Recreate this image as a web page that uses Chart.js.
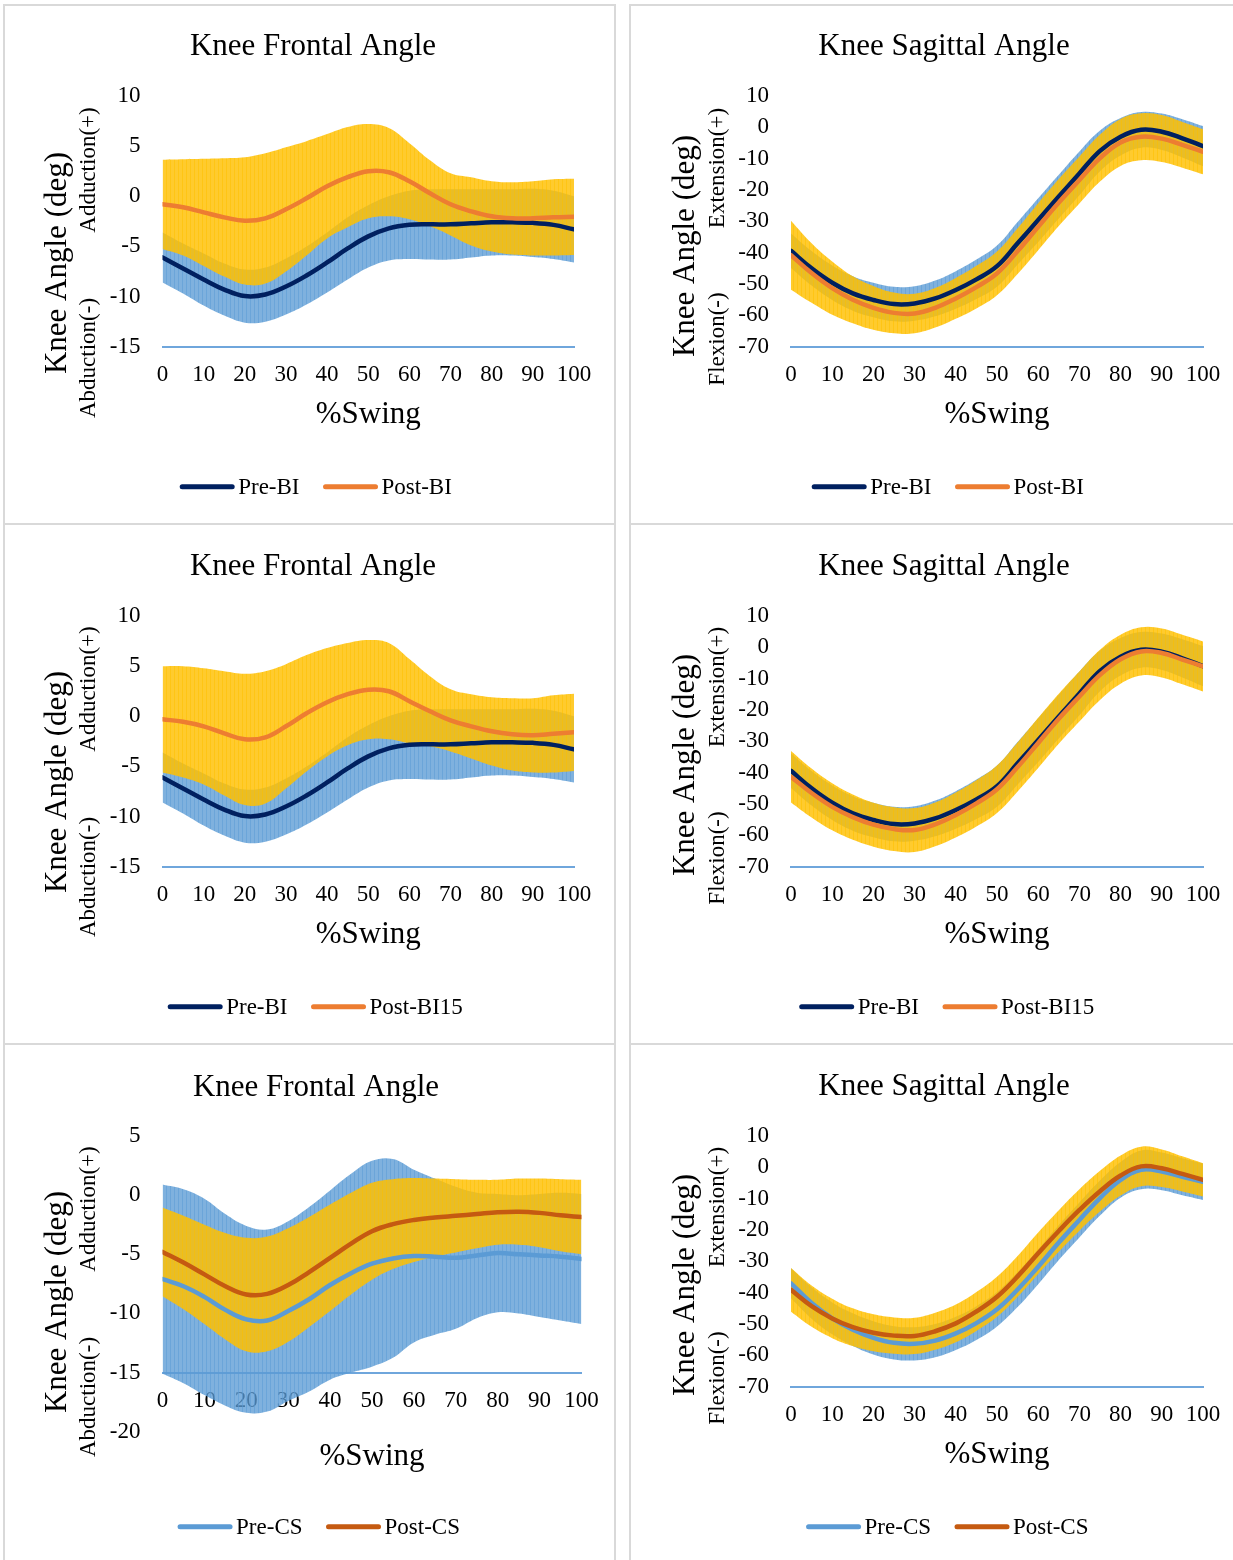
<!DOCTYPE html>
<html>
<head>
<meta charset="utf-8">
<title>Knee angles during swing</title>
<script src="https://cdn.jsdelivr.net/npm/chart.js@4.4.1/dist/chart.umd.min.js"></script>
<style>
  html, body { margin: 0; padding: 0; background: #fff; }
  body { position: relative; width: 1233px; height: 1560px; overflow: hidden; }
  .frame { position: absolute; box-sizing: border-box; border: 2px solid #d9d9d9; border-bottom: none; }
  canvas { position: absolute; }
</style>
</head>
<body>
<div class="frame" style="left:3px;top:4px;width:613px;height:521px"></div>
<div class="frame" style="left:629px;top:4px;width:700px;height:521px"></div>
<div class="frame" style="left:3px;top:523px;width:613px;height:522px"></div>
<div class="frame" style="left:629px;top:523px;width:700px;height:522px"></div>
<div class="frame" style="left:3px;top:1043px;width:613px;height:600px"></div>
<div class="frame" style="left:629px;top:1043px;width:700px;height:600px"></div>

<canvas id="frontalBi"    width="613" height="519" style="left:3px;top:5px"></canvas>
<canvas id="sagittalBi"   width="603" height="519" style="left:630px;top:5px"></canvas>
<canvas id="frontalBi15"  width="613" height="520" style="left:3px;top:524px"></canvas>
<canvas id="sagittalBi15" width="603" height="520" style="left:630px;top:524px"></canvas>
<canvas id="frontalCs"    width="613" height="516" style="left:3px;top:1044px"></canvas>
<canvas id="sagittalCs"   width="603" height="516" style="left:630px;top:1044px"></canvas>

<script>
// ---- data: group means and standard deviations every 5 % of swing ----
const SWING_PCT = [0, 5, 10, 15, 20, 25, 30, 35, 40, 45, 50, 55, 60, 65, 70, 75, 80, 85, 90, 95, 100];

// frontal plane (deg), adduction positive
const preBiFrontalMean   = [-6.1, -7.2, -8.3, -9.3, -9.95, -9.8, -9.0, -7.9, -6.6, -5.2, -4.0, -3.2, -2.85, -2.8, -2.8, -2.7, -2.6, -2.6, -2.65, -2.85, -3.3];
const preBiFrontalSd     = [2.5, 2.5, 2.6, 2.6, 2.65, 2.7, 2.8, 2.9, 3.0, 3.1, 3.1, 3.2, 3.4, 3.5, 3.5, 3.4, 3.3, 3.3, 3.4, 3.4, 3.3];
const postBiFrontalMean  = [-0.8, -1.1, -1.6, -2.1, -2.45, -2.2, -1.3, -0.2, 1.0, 1.9, 2.5, 2.4, 1.5, 0.3, -0.8, -1.5, -2.0, -2.2, -2.2, -2.1, -2.05];
const postBiFrontalSd    = [4.45, 4.8, 5.35, 5.9, 6.35, 6.5, 6.2, 5.7, 5.2, 5.0, 4.7, 4.4, 3.8, 3.3, 3.1, 3.4, 3.5, 3.6, 3.7, 3.8, 3.8];
const postBi15FrontalMean = [-0.3, -0.55, -1.0, -1.7, -2.3, -2.1, -1.0, 0.3, 1.4, 2.2, 2.65, 2.5, 1.5, 0.5, -0.4, -1.0, -1.5, -1.8, -1.9, -1.75, -1.6];
const postBi15FrontalSd  = [5.3, 5.55, 5.8, 6.2, 6.55, 6.6, 6.2, 5.8, 5.4, 5.1, 4.95, 4.8, 4.2, 3.5, 3.1, 3.2, 3.4, 3.6, 3.7, 3.85, 3.85];
const preCsFrontalMean   = [-7.1, -7.7, -8.6, -9.7, -10.5, -10.6, -9.8, -8.8, -7.6, -6.6, -5.8, -5.35, -5.15, -5.2, -5.3, -5.1, -4.9, -5.0, -5.1, -5.2, -5.4];
const preCsFrontalSd     = [8.0, 8.2, 8.3, 8.1, 7.9, 7.7, 7.6, 7.8, 8.0, 8.4, 8.7, 8.4, 7.3, 6.6, 6.0, 5.3, 5.0, 5.0, 5.2, 5.4, 5.5];
const postCsFrontalMean  = [-4.8, -5.7, -6.7, -7.7, -8.4, -8.35, -7.6, -6.5, -5.3, -4.1, -3.05, -2.45, -2.1, -1.9, -1.75, -1.6, -1.45, -1.4, -1.5, -1.7, -1.85];
const postCsFrontalSd    = [3.75, 3.95, 4.2, 4.5, 4.8, 4.85, 4.8, 4.65, 4.5, 4.3, 4.1, 3.8, 3.55, 3.3, 3.1, 2.9, 2.75, 2.8, 2.9, 3.05, 3.15];

// sagittal plane (deg), extension positive
const preBiSagittalMean   = [-39.4, -45.0, -49.6, -53.0, -55.1, -56.4, -56.2, -54.6, -51.9, -48.5, -44.3, -37.0, -29.6, -22.1, -14.7, -7.5, -3.0, -0.8, -1.4, -3.5, -6.0];
const preBiSagittalSd     = [5.5, 5.5, 5.5, 5.5, 5.5, 5.5, 5.5, 5.7, 6.0, 6.3, 6.6, 6.8, 7.0, 7.0, 7.0, 6.5, 6.0, 5.7, 5.8, 6.1, 6.4];
const postBiSagittalMean  = [-40.8, -46.5, -51.3, -55.0, -57.6, -59.2, -59.4, -57.6, -54.6, -51.0, -46.6, -39.5, -31.7, -24.0, -16.8, -9.8, -4.8, -3.0, -3.6, -5.6, -7.8];
const postBiSagittalSd    = [11.0, 9.5, 8.5, 7.5, 7.0, 6.5, 6.3, 6.3, 6.5, 6.8, 7.0, 7.3, 7.5, 7.5, 7.5, 7.5, 7.5, 7.5, 7.5, 7.3, 7.2];
const postBi15SagittalMean = [-41.3, -46.5, -50.9, -54.2, -56.6, -58.0, -58.3, -56.5, -53.5, -49.8, -45.3, -38.2, -30.5, -22.8, -15.7, -8.8, -3.8, -1.3, -1.8, -3.9, -6.1];
const postBi15SagittalSd  = [8.2, 7.8, 7.5, 7.2, 7.0, 7.0, 7.0, 7.0, 7.2, 7.4, 7.6, 7.8, 8.0, 8.0, 8.0, 8.0, 7.8, 7.7, 7.8, 7.9, 8.0];
const preCsSagittalMean   = [-37.0, -43.3, -48.2, -51.8, -54.4, -56.0, -56.3, -55.3, -53.0, -49.7, -45.3, -39.0, -31.7, -24.0, -16.8, -9.8, -4.0, -0.8, -1.3, -3.0, -4.6];
const preCsSagittalSd     = [4.8, 5.0, 5.1, 5.2, 5.3, 5.3, 5.3, 5.3, 5.3, 5.4, 5.5, 5.6, 5.6, 5.6, 5.6, 5.6, 5.7, 6.2, 6.0, 5.9, 5.8];
const postCsSagittalMean  = [-39.1, -44.3, -48.2, -51.0, -52.8, -53.7, -53.8, -52.3, -49.8, -46.0, -41.3, -34.8, -27.4, -20.3, -13.6, -7.6, -2.6, 0.3, -0.3, -2.1, -4.0];
const postCsSagittalSd    = [7.0, 6.6, 6.3, 6.0, 5.9, 5.8, 5.8, 5.9, 6.0, 6.2, 6.4, 6.5, 6.6, 6.6, 6.6, 6.5, 6.4, 6.3, 6.0, 5.6, 5.3];

// labels
const GROUP_NAMES = { preBi: 'Pre-BI', postBi: 'Post-BI', postBi15: 'Post-BI15', preCs: 'Pre-CS', postCs: 'Post-CS' };
const FRONTAL_TITLE = 'Knee Frontal Angle';
const SAGITTAL_TITLE = 'Knee Sagittal Angle';
const Y_TITLE = 'Knee Angle (deg)';
const X_TITLE = '%Swing';
const FRONTAL_DIRS = ['Adduction(+)', 'Abduction(-)'];
const SAGITTAL_DIRS = ['Extension(+)', 'Flexion(-)'];

// ---- styling ----
const SERIF = "'Liberation Serif', 'Times New Roman', serif";
Chart.defaults.font.family = SERIF;
Chart.defaults.color = '#000';

const NAVY = '#002060', ORANGE = '#ED7D31', LIGHT_BLUE = '#5B9BD5', DARK_ORANGE = '#C55A11';
const AXIS_BLUE = '#6fa6dc';

// error-bar style band: fine vertical stripes in a translucent fill
function stripes(r, g, b, aBase, aLine) {
  const c = document.createElement('canvas');
  c.width = 4; c.height = 8;
  const x = c.getContext('2d');
  x.fillStyle = `rgba(${r},${g},${b},${aBase})`; x.fillRect(0, 0, 3, 8);
  x.fillStyle = `rgba(${r},${g},${b},${aLine})`; x.fillRect(3, 0, 1, 8);
  return x.createPattern(c, 'repeat');
}
const BLUE_BAND = stripes(91, 155, 213, 0.78, 0.9);
const GOLD_BAND = stripes(255, 192, 0, 0.82, 0.92);

function series(mean, sd, sign) {
  return SWING_PCT.map((p, i) => ({ x: p, y: sd ? mean[i] + sign * sd[i] : mean[i] }));
}

function textPlugin(s) {
  return {
    id: 'panelText',
    afterDraw(chart) {
      const ctx = chart.ctx;
      ctx.save();
      ctx.fillStyle = '#000';
      // chart title
      ctx.font = `31px ${SERIF}`;
      ctx.textAlign = 'center';
      ctx.textBaseline = 'alphabetic';
      ctx.fillText(s.title, s.titleX, s.titleY);
      // rotated axis captions
      const vtext = (txt, x, y, size) => {
        ctx.save();
        ctx.translate(x, y);
        ctx.rotate(-Math.PI / 2);
        ctx.font = `${size}px ${SERIF}`;
        ctx.textAlign = 'center';
        ctx.textBaseline = 'middle';
        ctx.fillText(txt, 0, 0);
        ctx.restore();
      };
      vtext(Y_TITLE, s.text.yTitleX, s.text.yTitleY, 31);
      vtext(s.dirs[0], s.text.subX, s.text.plusY, 23);
      vtext(s.dirs[1], s.text.subX, s.text.minusY, 23);
      // legend
      ctx.font = `23px ${SERIF}`;
      const items = [s.pre, s.post];
      const LINE = 54, GAP = 4, SEP = 24;
      const widths = items.map(it => ctx.measureText(it.name).width);
      const total = items.length * (LINE + GAP) + widths.reduce((a, b) => a + b, 0) + SEP * (items.length - 1);
      let x = s.legendCx - total / 2;
      items.forEach((it, i) => {
        ctx.strokeStyle = it.color;
        ctx.lineWidth = 5;
        ctx.lineCap = 'round';
        ctx.beginPath();
        ctx.moveTo(x + 2, s.legendY);
        ctx.lineTo(x + LINE - 2, s.legendY);
        ctx.stroke();
        x += LINE + GAP;
        ctx.textAlign = 'left';
        ctx.textBaseline = 'middle';
        ctx.fillText(it.name, x, s.legendY + 1);
        x += widths[i] + SEP;
      });
      ctx.restore();
    }
  };
}

function makeChart(id, s) {
  const canvas = document.getElementById(id);
  const W = canvas.width, H = canvas.height;
  const Y_AXIS_W = 70;
  const line = (g, order) => ({
    label: g.name, data: series(g.mean), borderColor: g.color, borderWidth: 4.5,
    borderCapStyle: 'round', borderJoinStyle: 'round', pointRadius: 0, fill: false,
    order, tension: 0.4
  });
  const edge = (g, sign, fill, bg, order) => ({
    data: series(g.mean, g.sd, sign), borderWidth: 0, borderColor: 'rgba(0,0,0,0)',
    pointRadius: 0, fill, backgroundColor: bg, order, tension: 0.4
  });
  return new Chart(canvas, {
    type: 'line',
    data: {
      datasets: [
        line(s.pre, 1),
        line(s.post, 0),
        edge(s.pre, -1, false, 'rgba(0,0,0,0)', 3),
        edge(s.pre, 1, '-1', BLUE_BAND, 3),
        edge(s.post, -1, false, 'rgba(0,0,0,0)', 2),
        edge(s.post, 1, '-1', GOLD_BAND, 2)
      ]
    },
    options: {
      responsive: false,
      animation: false,
      events: [],
      layout: {
        padding: { left: s.area.left - Y_AXIS_W, right: W - s.area.right, top: s.area.top, bottom: H - s.area.bottom }
      },
      plugins: { legend: { display: false }, tooltip: { enabled: false }, title: { display: false } },
      scales: {
        x: {
          type: 'linear', min: 0, max: 100,
          position: { y: s.crossAt },
          z: 1,
          grid: { display: false, drawTicks: true, tickLength: 14.2 },
          border: { display: true, color: AXIS_BLUE, width: 2 },
          ticks: { stepSize: 10, padding: 0, font: { size: 23 }, color: '#000', maxRotation: 0, autoSkip: false },
          title: { display: true, text: X_TITLE, font: { size: 31 }, color: '#000', padding: { top: s.swingPad, bottom: 0 } }
        },
        y: {
          type: 'linear', min: s.yMin, max: s.yMax,
          grid: { display: false, drawTicks: false },
          border: { display: false },
          ticks: { stepSize: s.yStep, padding: 22, font: { size: 23 }, color: '#000' },
          afterFit(scale) { scale.width = Y_AXIS_W; }
        }
      }
    },
    plugins: [textPlugin(s)]
  });
}

const FRONT_TEXT = { yTitleX: 55, subX: 86, yTitleY: 258, plusY: 165, minusY: 353 };
const SAG_TEXT = { yTitleX: 56, subX: 88, yTitleY: 241, plusY: 163, minusY: 334 };

const preBiFrontal = { name: GROUP_NAMES.preBi, color: NAVY, mean: preBiFrontalMean, sd: preBiFrontalSd };
const preBiSagittal = { name: GROUP_NAMES.preBi, color: NAVY, mean: preBiSagittalMean, sd: preBiSagittalSd };

makeChart('frontalBi', {
  title: FRONTAL_TITLE, titleX: 310, titleY: 49.5, dirs: FRONTAL_DIRS, text: FRONT_TEXT,
  yMin: -15, yMax: 10, yStep: 5, crossAt: -15, swingPad: 7.6,
  area: { left: 159.5, right: 571, top: 91, bottom: 341.7 },
  legendCx: 313, legendY: 481.7,
  pre: preBiFrontal,
  post: { name: GROUP_NAMES.postBi, color: ORANGE, mean: postBiFrontalMean, sd: postBiFrontalSd }
});

makeChart('sagittalBi', {
  title: SAGITTAL_TITLE, titleX: 314, titleY: 49.5, dirs: SAGITTAL_DIRS, text: SAG_TEXT,
  yMin: -70, yMax: 10, yStep: 10, crossAt: -70, swingPad: 7.6,
  area: { left: 161, right: 573, top: 91, bottom: 341.7 },
  legendCx: 318, legendY: 481.7,
  pre: preBiSagittal,
  post: { name: GROUP_NAMES.postBi, color: ORANGE, mean: postBiSagittalMean, sd: postBiSagittalSd }
});

makeChart('frontalBi15', {
  title: FRONTAL_TITLE, titleX: 310, titleY: 50.5, dirs: FRONTAL_DIRS, text: FRONT_TEXT,
  yMin: -15, yMax: 10, yStep: 5, crossAt: -15, swingPad: 7.6,
  area: { left: 159.5, right: 571, top: 92, bottom: 342.7 },
  legendCx: 312.5, legendY: 482.7,
  pre: preBiFrontal,
  post: { name: GROUP_NAMES.postBi15, color: ORANGE, mean: postBi15FrontalMean, sd: postBi15FrontalSd }
});

makeChart('sagittalBi15', {
  title: SAGITTAL_TITLE, titleX: 314, titleY: 50.5, dirs: SAGITTAL_DIRS, text: SAG_TEXT,
  yMin: -70, yMax: 10, yStep: 10, crossAt: -70, swingPad: 7.6,
  area: { left: 161, right: 573, top: 92, bottom: 342.7 },
  legendCx: 317, legendY: 482.7,
  pre: preBiSagittal,
  post: { name: GROUP_NAMES.postBi15, color: ORANGE, mean: postBi15SagittalMean, sd: postBi15SagittalSd }
});

makeChart('frontalCs', {
  title: FRONTAL_TITLE, titleX: 313, titleY: 52, dirs: FRONTAL_DIRS, text: FRONT_TEXT,
  yMin: -20, yMax: 5, yStep: 5, crossAt: -15, swingPad: 24,
  area: { left: 159.5, right: 578.5, top: 92, bottom: 387.7 },
  legendCx: 316, legendY: 482.7,
  pre: { name: GROUP_NAMES.preCs, color: LIGHT_BLUE, mean: preCsFrontalMean, sd: preCsFrontalSd },
  post: { name: GROUP_NAMES.postCs, color: DARK_ORANGE, mean: postCsFrontalMean, sd: postCsFrontalSd }
});

makeChart('sagittalCs', {
  title: SAGITTAL_TITLE, titleX: 314, titleY: 51, dirs: SAGITTAL_DIRS, text: SAG_TEXT,
  yMin: -70, yMax: 10, yStep: 10, crossAt: -70, swingPad: 7.6,
  area: { left: 161, right: 573, top: 92, bottom: 342.7 },
  legendCx: 317.5, legendY: 482.7,
  pre: { name: GROUP_NAMES.preCs, color: LIGHT_BLUE, mean: preCsSagittalMean, sd: preCsSagittalSd },
  post: { name: GROUP_NAMES.postCs, color: DARK_ORANGE, mean: postCsSagittalMean, sd: postCsSagittalSd }
});
</script>
</body>
</html>
